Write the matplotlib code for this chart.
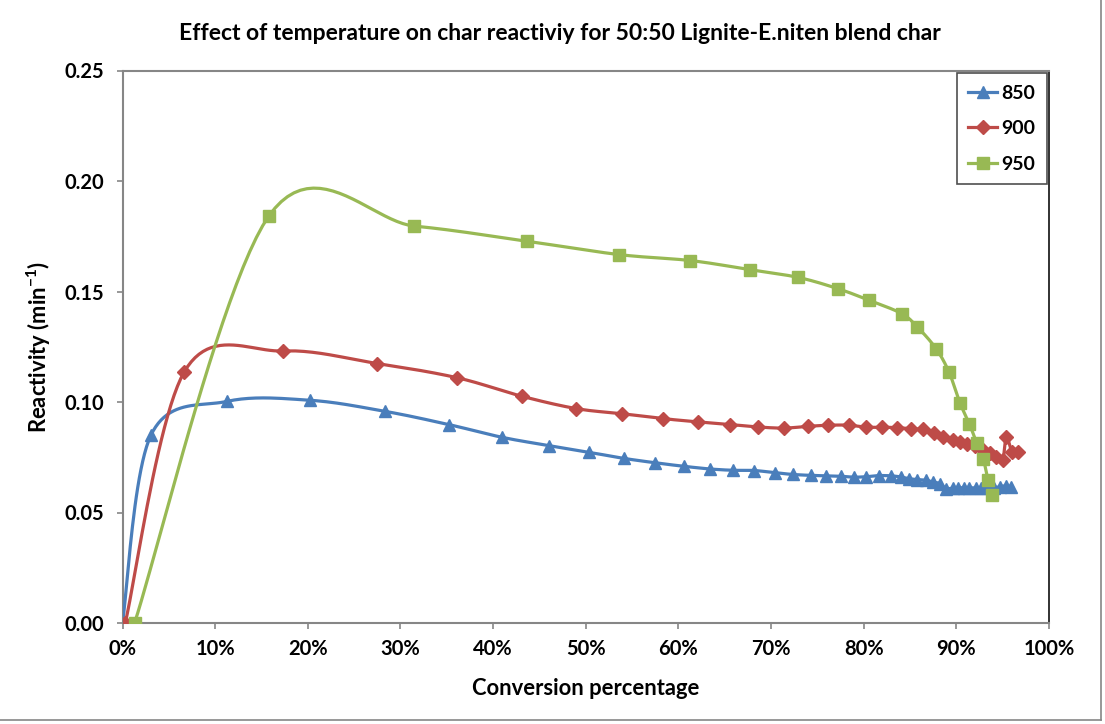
import numpy as np
import matplotlib
matplotlib.use("Agg")
import matplotlib.pyplot as plt
from matplotlib.lines import Line2D
from matplotlib.ticker import FuncFormatter

plt.rcParams['font.family'] = ['Lato', 'DejaVu Sans']
plt.rcParams['mathtext.fontset'] = 'custom'
plt.rcParams['mathtext.rm'] = 'Lato:bold'
plt.rcParams['mathtext.it'] = 'Lato:bold'
plt.rcParams['mathtext.bf'] = 'Lato:bold'

# ---- data (conversion %, reactivity min^-1) ----
x_850 = [0, 3.06, 11.3, 20.2, 28.3, 35.2, 41.0, 46.0, 50.3, 54.1,
         57.5, 60.6, 63.4, 65.9, 68.2, 70.4, 72.4, 74.3, 75.9, 77.5,
         79.0, 80.3, 81.6, 82.9, 84.0, 84.9, 85.8, 86.7, 87.5, 88.2,
         88.9, 89.6, 90.2, 90.8, 91.4, 92.1, 92.7, 93.4, 94.1, 94.7,
         95.4, 95.9]
y_850 = [0, 0.0849, 0.1003, 0.1008, 0.0958, 0.0898, 0.0840, 0.0803, 0.0773, 0.0745,
         0.0725, 0.0709, 0.0697, 0.0691, 0.0690, 0.0680, 0.0672, 0.0668, 0.0666, 0.0664,
         0.0660, 0.0662, 0.0667, 0.0666, 0.0661, 0.0653, 0.0649, 0.0646, 0.0638, 0.0631,
         0.0608, 0.0611, 0.0612, 0.0612, 0.0612, 0.0611, 0.0610, 0.0609, 0.0611, 0.0617,
         0.0621, 0.0617]

x_900 = [0.3, 6.66, 17.3, 27.5, 36.1, 43.1, 49.0, 53.9, 58.3, 62.1,
         65.6, 68.6, 71.4, 74.0, 76.2, 78.4, 80.3, 82.0, 83.6, 85.1,
         86.4, 87.6, 88.6, 89.6, 90.4, 91.2, 92.0, 92.9, 93.6, 94.3,
         95.0, 95.4, 96.0, 96.7]
y_900 = [0, 0.1136, 0.1231, 0.1174, 0.1110, 0.1026, 0.0970, 0.0947, 0.0925, 0.0910,
         0.0898, 0.0887, 0.0882, 0.0890, 0.0895, 0.0895, 0.0886, 0.0886, 0.0884, 0.0879,
         0.0876, 0.0861, 0.0842, 0.0830, 0.0819, 0.0808, 0.0800, 0.0783, 0.0767, 0.0751,
         0.0737, 0.0843, 0.0775, 0.0772]

x_950 = [1.3, 15.8, 31.5, 43.7, 53.6, 61.3, 67.7, 72.9, 77.2, 80.6,
         84.1, 85.8, 87.8, 89.2, 90.4, 91.4, 92.2, 92.9, 93.4, 93.9]
y_950 = [0, 0.1842, 0.1796, 0.1727, 0.1667, 0.1640, 0.1599, 0.1564, 0.1513, 0.1460,
         0.1400, 0.1339, 0.1242, 0.1136, 0.0995, 0.0902, 0.0814, 0.0744, 0.0649, 0.0578]

labels = ['850', '900', '950']
colors = ['#4A7EBB', '#BE4B48', '#98B954']
markers = ['^', 'D', 's']
msizes = [8, 7, 8.5]

x_ticks = list(range(0, 101, 10))
y_ticks = [0.00, 0.05, 0.10, 0.15, 0.20, 0.25]

title = 'Effect of temperature on char reactiviy for 50:50 Lignite-E.niten blend char'
xlabel = 'Conversion percentage'
ylabel = r'Reactivity (min$^{-1}$)'


def smooth(x, y, n=24):
    """Excel-style smoothed line (cubic Bezier, Catmull-Rom control points)."""
    P = np.column_stack([np.asarray(x, float), np.asarray(y, float)])
    out = [P[0]]
    m = len(P)
    t = np.linspace(0, 1, n)[1:]
    for i in range(m - 1):
        p0 = P[i - 1] if i > 0 else P[i]
        p1 = P[i]
        p2 = P[i + 1]
        p3 = P[i + 2] if i + 2 < m else P[i + 1]
        c1 = p1 + (p2 - p0) / 6.0
        c2 = p2 - (p3 - p1) / 6.0
        for tt in t:
            out.append(((1 - tt) ** 3) * p1 + 3 * ((1 - tt) ** 2) * tt * c1
                       + 3 * (1 - tt) * tt ** 2 * c2 + tt ** 3 * p2)
    out = np.array(out)
    return out[:, 0], out[:, 1]


fig = plt.figure(figsize=(11.05, 7.24), dpi=100)
ax = fig.add_axes([122.5 / 1105, 1 - 623 / 724, (1049 - 122.5) / 1105, (623 - 70.5) / 724])

series = [(x_850, y_850), (x_900, y_900), (x_950, y_950)]
handles = []
for (xs, ys), lab, c, mk, ms in zip(series, labels, colors, markers, msizes):
    sx, sy = smooth(xs, ys)
    ax.plot(sx, sy, color=c, lw=2.3, solid_capstyle='round', zorder=3)
    ax.plot(xs, ys, linestyle='none', marker=mk, markersize=ms, color=c,
            markeredgecolor=c, zorder=4)
    handles.append(Line2D([0], [0], color=c, lw=2.3, marker=mk, markersize=ms,
                          markeredgecolor=c))

ax.set_xlim(0, 100)
ax.set_ylim(0, 0.25)
ax.set_xticks(x_ticks)
ax.set_yticks(y_ticks)
ax.xaxis.set_major_formatter(FuncFormatter(lambda v, p: f'{int(round(v))}%'))
ax.yaxis.set_major_formatter(FuncFormatter(lambda v, p: f'{v:.2f}'))

for lab in ax.get_xticklabels() + ax.get_yticklabels():
    lab.set_fontweight('bold')
    lab.set_fontsize(14.5)
ax.tick_params(axis='both', direction='out', length=4.5, width=1.2, color='#868686')
ax.tick_params(axis='x', pad=7)
ax.tick_params(axis='y', pad=9)

for s in ['left', 'bottom', 'top']:
    ax.spines[s].set_color('#868686')
    ax.spines[s].set_linewidth(1.5)
ax.spines['right'].set_color('#222222')
ax.spines['right'].set_linewidth(1.3)

ax.set_xlabel(xlabel, fontsize=15.8, fontweight='bold', labelpad=14)
ax.set_ylabel(ylabel, fontsize=15.8, fontweight='bold', labelpad=8)
fig.text(0.507, 1 - 33 / 724, title, ha='center', va='center', fontsize=16.5, fontweight='bold')

leg = ax.legend(handles, labels, loc='upper right', bbox_to_anchor=(0.9978, 0.9955),
                borderaxespad=0, frameon=True, fancybox=False, fontsize=14,
                handlelength=1.5, labelspacing=0.95, borderpad=0.6, handletextpad=0.2)
leg.get_frame().set_edgecolor('#222222')
leg.get_frame().set_linewidth(1.2)
for t in leg.get_texts():
    t.set_fontweight('bold')

# chart area border (right and bottom edges visible)
fig.add_artist(Line2D([1101 / 1105, 1101 / 1105], [1 - 720 / 724, 1.0], transform=fig.transFigure,
                      color='#868686', lw=1.2))
fig.add_artist(Line2D([0, 1101 / 1105], [1 - 720 / 724, 1 - 720 / 724], transform=fig.transFigure,
                      color='#868686', lw=1.2))

fig.savefig('out.png', dpi=100)
